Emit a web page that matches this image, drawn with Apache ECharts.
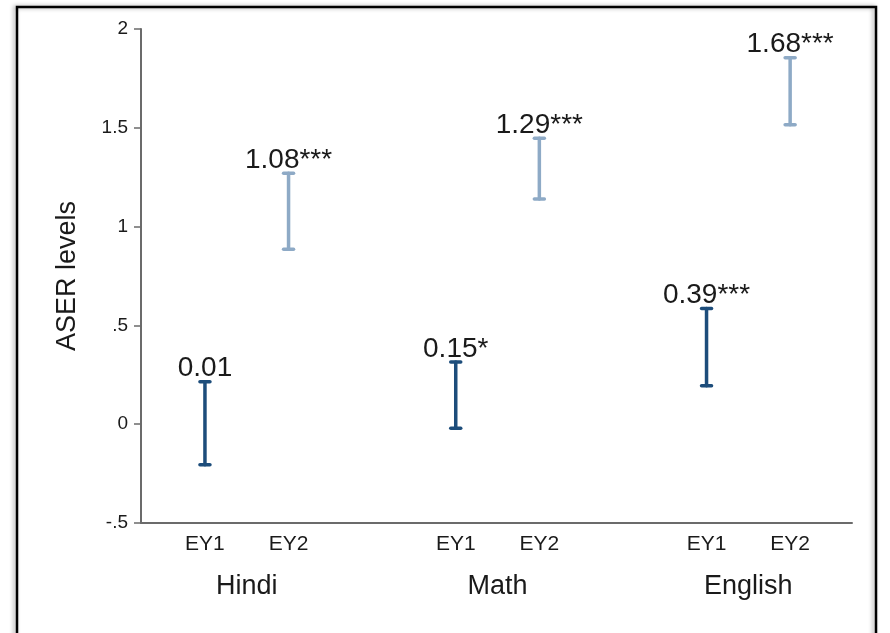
<!DOCTYPE html>
<html>
<head>
<meta charset="utf-8">
<script src="https://cdn.jsdelivr.net/npm/echarts@6/dist/echarts.min.js"></script>
<style>
html,body{margin:0;padding:0;background:#fff;}
#chart{width:890px;height:633px;}
</style>
</head>
<body>
<div id="chart"></div>
<script>
// Data
const subjects = ['Hindi', 'Math', 'English'];
const subjectPos = [1.5, 4.5, 7.5];
const yearLabels = ['EY1', 'EY2', 'EY1', 'EY2', 'EY1', 'EY2'];
const yearPos = [1, 2, 4, 5, 7, 8];
const ciLow = [-0.205, 0.885, -0.02, 1.14, 0.195, 1.515];
const ciHigh = [0.215, 1.27, 0.315, 1.447, 0.585, 1.855];
const estLabels = ['0.01', '1.08***', '0.15*', '1.29***', '0.39***', '1.68***'];
const yearGroup = [0, 1, 0, 1, 0, 1];
const yTicks = ['-.5', '0', '.5', '1', '1.5', '2'];

const colors = ['#1d4d7b', '#8eaac6'];
const FONT = '"Liberation Sans", Arial, sans-serif';

const chart = echarts.init(document.getElementById('chart'));

const data = yearPos.map((x, i) => [x, ciLow[i], ciHigh[i], i]);

const labelMap = {};
yearPos.forEach((p, i) => { labelMap[p] = yearLabels[i]; });
const subjMap = {};
subjectPos.forEach((p, i) => { subjMap[p] = subjects[i]; });
const yTickMap = {};
[-0.5, 0, 0.5, 1, 1.5, 2].forEach((v, i) => { yTickMap[v] = yTicks[i]; });

const option = {
  backgroundColor: '#ffffff',
  animation: false,
  textStyle: { fontFamily: FONT },
  graphic: [{
    type: 'rect',
    shape: { x: 17, y: 7, width: 859, height: 640 },
    style: { fill: 'rgba(0,0,0,0)', stroke: '#000', lineWidth: 2.5,
             shadowBlur: 4, shadowColor: 'rgba(0,0,0,0.35)', shadowOffsetX: -2, shadowOffsetY: 0 },
    z: 0, silent: true
  }],
  grid: { left: 141, right: 38, top: 29, bottom: 110, containLabel: false },
  xAxis: [{
    type: 'value', min: 0.235, max: 8.74,
    axisLine: { show: true, onZero: false, lineStyle: { color: '#6b6b6b', width: 2 } },
    axisTick: { show: false },
    splitLine: { show: false },
    axisLabel: {
      customValues: yearPos,
      formatter: v => labelMap[v] || '',
      color: '#1a1a1a', fontSize: 21, margin: 11, fontFamily: FONT
    }
  }, {
    type: 'value', min: 0.235, max: 8.74, position: 'bottom',
    axisLine: { show: false },
    axisTick: { show: false },
    splitLine: { show: false },
    axisLabel: {
      customValues: subjectPos,
      formatter: v => subjMap[v] || '',
      color: '#1a1a1a', fontSize: 27, margin: 50, fontFamily: FONT
    }
  }],
  yAxis: {
    type: 'value', min: -0.5, max: 2, interval: 0.5,
    name: 'ASER levels', nameLocation: 'middle', nameGap: 60,
    nameTextStyle: { fontSize: 27, color: '#1a1a1a', fontFamily: FONT },
    axisLine: { show: true, onZero: false, lineStyle: { color: '#6b6b6b', width: 2 } },
    axisTick: { show: true, length: 7, lineStyle: { color: '#6b6b6b', width: 1.5 } },
    splitLine: { show: false },
    axisLabel: {
      formatter: v => yTickMap[v] !== undefined ? yTickMap[v] : '',
      color: '#1a1a1a', fontSize: 19, margin: 13, fontFamily: FONT
    }
  },
  series: [{
    type: 'custom',
    xAxisIndex: 0,
    data: data,
    encode: { x: 0, y: [1, 2] },
    renderItem: function (params, api) {
      const x = api.value(0);
      const lo = api.coord([x, api.value(1)]);
      const hi = api.coord([x, api.value(2)]);
      const idx = api.value(3);
      const col = colors[yearGroup[idx]];
      const cap = 5;
      const st = { stroke: col, lineWidth: 3.5, lineCap: 'round' };
      return {
        type: 'group',
        children: [
          { type: 'line', shape: { x1: lo[0], y1: lo[1], x2: hi[0], y2: hi[1] }, style: st },
          { type: 'line', shape: { x1: lo[0] - cap, y1: lo[1], x2: lo[0] + cap, y2: lo[1] }, style: st },
          { type: 'line', shape: { x1: hi[0] - cap, y1: hi[1], x2: hi[0] + cap, y2: hi[1] }, style: st },
          { type: 'text', x: hi[0], y: hi[1] + 1,
            style: { text: estLabels[idx], fill: '#1a1a1a', font: '28px ' + FONT,
                     align: 'center', verticalAlign: 'bottom' } }
        ]
      };
    }
  }]
};
chart.setOption(option);
</script>
</body>
</html>
